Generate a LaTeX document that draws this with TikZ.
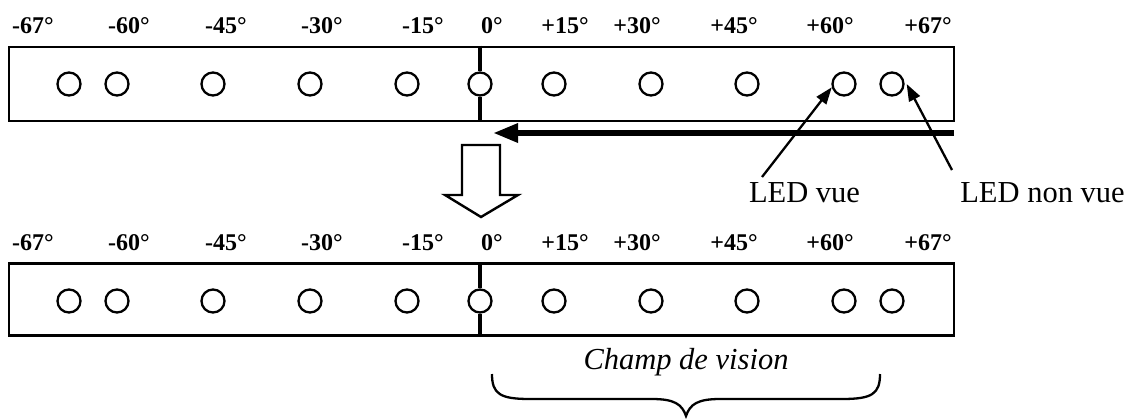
\documentclass[tikz,border=0pt]{standalone}
\usepackage{fontspec}
\setmainfont{Liberation Serif}
\usetikzlibrary{arrows.meta}

\begin{document}
\begin{tikzpicture}[x=1pt,y=-1pt,
  panel/.style={draw, line width=2.6pt, minimum width=945pt, minimum height=74pt, inner sep=0pt},
  led/.style={draw, circle, line width=2.3pt, fill=white, minimum size=23pt, inner sep=0pt},
  deg/.style={anchor=base, inner sep=0pt, font=\fontsize{24}{28}\selectfont\bfseries},
  caption/.style={anchor=base, inner sep=0pt, font=\fontsize{30.5}{36}\selectfont},
  divider/.style={line width=3.8pt},
  pointer/.style={line width=2.3pt, -{Triangle[length=17pt,width=12pt]}},
  sweep/.style={line width=6pt, -{Triangle[length=25pt,width=18pt]}},
  blockarrow/.style={draw, line width=2.4pt, fill=white, line join=miter},
  brace/.style={draw, line width=2.3pt},
]
\useasboundingbox (0,0) rectangle (1139,418);

% ---------- upper strip ----------
\node[panel] (top) at (481.5,84) {};
\foreach \x [count=\i] in {69,117,213,310,407,480,554,651,747,844,892}
  \node[led] (t\i) at (\x,84) {};
\foreach \x/\t [count=\i] in {33/-67,129/-60,226/-45,322/-30,423/-15,492/0,565/+15,637/+30,734/+45,830/+60,928/+67}
  \node[deg] (tl\i) at (\x,33) {\t°};
\draw[divider] (top.north -| t6) -- (t6.north);
\draw[divider] (t6.south) -- (top.south -| t6);

% sweep direction
\coordinate (sweepStart) at (954,133);
\coordinate (sweepEnd) at (493,133);
\draw[sweep] (sweepStart) -- (sweepEnd);

% labels of the two marked LEDs
\node[caption] (seen) at (804.5,202) {LED vue};
\node[caption] (unseen) at (1042.5,202) {LED non vue};
\coordinate (seenFoot) at (762,177);
\coordinate (unseenFoot) at (952,170);
\draw[pointer] (seenFoot) -- (t10.195);
\draw[pointer] (unseenFoot) -- ([xshift=2pt]t11.east);

% transition arrow
\path[blockarrow] (462,145) -- (500,145) -- (500,195) -- (518,195) -- (481,217)
  -- (445,195) -- (462,195) -- cycle;

% ---------- lower strip ----------
\node[panel, minimum height=72pt] (bot) at (481.5,299.5) {};
\foreach \x [count=\i] in {69,117,213,310,407,480,554,651,747,844,892}
  \node[led] (b\i) at (\x,301) {};
\foreach \x/\t [count=\i] in {33/-67,129/-60,226/-45,322/-30,423/-15,492/0,565/+15,637/+30,734/+45,830/+60,928/+67}
  \node[deg] (bl\i) at (\x,250) {\t°};
\draw[divider] (bot.north -| b6) -- (b6.north);
\draw[divider] (b6.south) -- (bot.south -| b6);

% field of view
\path[brace] (492,374) .. controls (492,394) and (500,399) .. (530,399) -- (652,399)
  .. controls (674,399) and (682,404) .. (686,416)
  .. controls (690,404) and (698,399) .. (720,399) -- (842,399)
  .. controls (872,399) and (880,394) .. (880,374);
\node[caption, font=\fontsize{30.5}{36}\selectfont\itshape] (fov) at (686,369) {Champ de vision};
\end{tikzpicture}
\end{document}
